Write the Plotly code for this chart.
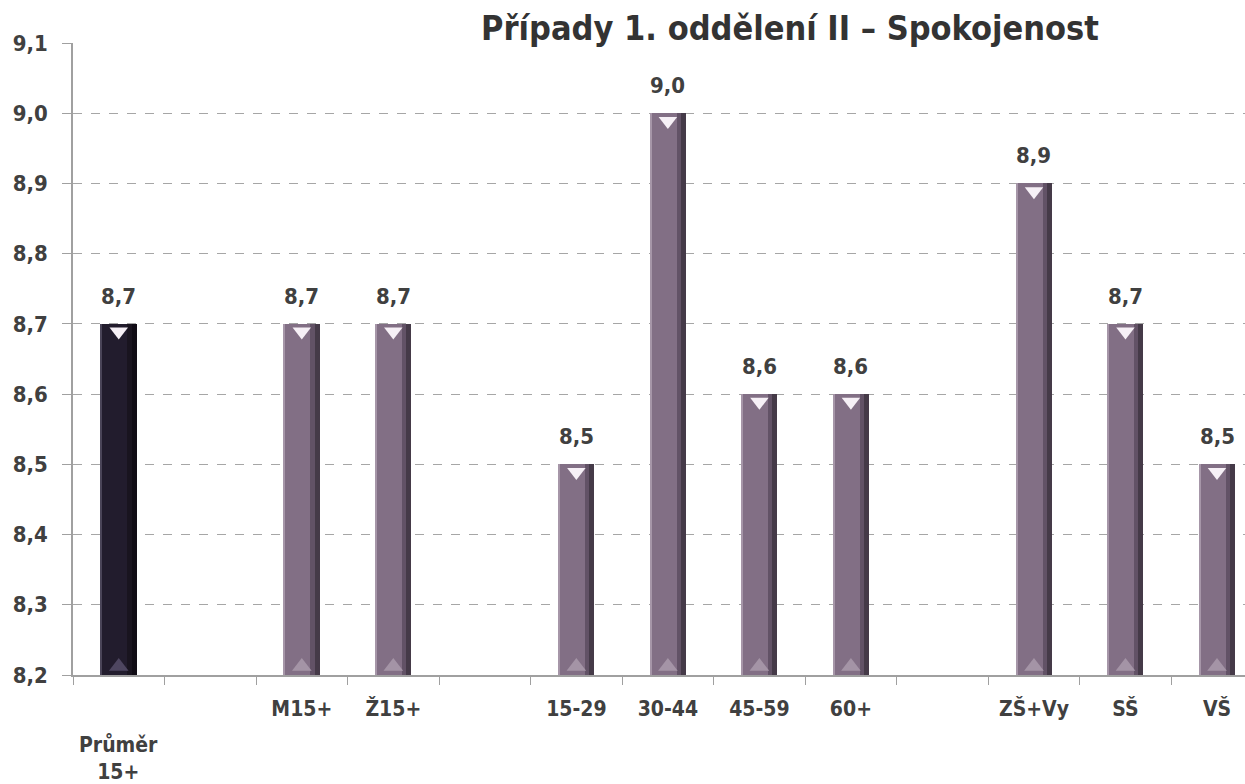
import plotly.graph_objects as go

# ---- data ----
categories = ["Průměr 15+", " ", "M15+", "Ž15+", "  ", "15-29", "30-44", "45-59", "60+", "   ", "ZŠ+Vy", "SŠ", "VŠ"]
tick_labels = ["", " ", "M15+", "Ž15+", "  ", "15-29", "30-44", "45-59", "60+", "   ", "ZŠ+Vy", "SŠ", "VŠ"]
avg_label = "Průměr<br>15+"
values = [8.7, None, 8.7, 8.7, None, 8.5, 9.0, 8.6, 8.6, None, 8.9, 8.7, 8.5]
is_average = [True, False, False, False, False, False, False, False, False, False, False, False, False]
y_min, y_max, y_step = 8.2, 9.1, 0.1
title = "Případy 1. oddělení II – Spokojenost"

FONT = "DejaVu Sans Condensed, DejaVu Sans, sans-serif"
TXT = "#404040"

body_col = ["#221c2d" if a else "#826f85" for a in is_average]
mid_col = ["#19141f" if a else "#625266" for a in is_average]
dark_col = ["#100c15" if a else "#453a48" for a in is_average]
edge_col = ["#4a4458" if a else "#a696a8" for a in is_average]
base_hl = ["#4e4660" if a else "#a494a6" for a in is_average]

W = 0.39
fig = go.Figure()

def strip(colors, width, offset):
    fig.add_trace(go.Bar(
        x=categories, y=values, width=width, offset=offset,
        marker=dict(color=colors, line=dict(width=0)),
        hoverinfo="skip", showlegend=False,
    ))

strip(body_col, W, -W / 2)
strip(edge_col, 0.012, -W / 2)
strip(mid_col, 0.045, W / 2 - 0.1)
strip(dark_col, 0.055, W / 2 - 0.055)

# bevel highlights
xs = [c for c, v in zip(categories, values) if v is not None]
vs = [v for v in values if v is not None]
bh = [b for b, v in zip(base_hl, values) if v is not None]
fig.add_trace(go.Scatter(
    x=xs, y=[v - 0.011 for v in vs], mode="markers",
    marker=dict(symbol="triangle-down", size=16, color="#f6f0f6", line=dict(width=0)),
    hoverinfo="skip", showlegend=False,
))
fig.add_trace(go.Scatter(
    x=xs, y=[y_min + 0.012 for _ in vs], mode="markers",
    marker=dict(symbol="triangle-up", size=17, color=bh, line=dict(width=0)),
    hoverinfo="skip", showlegend=False,
))

# data labels
for c, v in zip(categories, values):
    if v is None:
        continue
    fig.add_annotation(
        x=c, y=v, text=f"{v:.1f}".replace(".", ","), showarrow=False,
        yanchor="bottom", yshift=13,
        font=dict(family=FONT, size=22, color=TXT, weight="bold"),
    )

# wrapped label of the average category (sits lower, as in the original)
fig.add_annotation(
    x=categories[0], y=-0.088, xref="x", yref="paper", yanchor="top",
    text=avg_label, showarrow=False,
    font=dict(family=FONT, size=21, color=TXT, weight="bold"),
)

n_right = -0.5 + (1245 - 73) / 91.52

fig.update_layout(
    width=1245, height=784,
    margin=dict(l=73, r=0, t=43, b=109, autoexpand=False),
    paper_bgcolor="white", plot_bgcolor="white",
    barmode="overlay", bargap=0,
    separators=", ",
    title=dict(
        text=title, x=790 / 1245, xanchor="center", xref="container",
        y=1 - 28 / 784, yanchor="middle", yref="container",
        font=dict(family=FONT, size=34, color="#333333", weight="bold"),
        automargin=False,
    ),
    font=dict(family=FONT, color=TXT),
    xaxis=dict(
        type="category", categoryorder="array", categoryarray=categories,
        range=[-0.5, n_right], automargin=False,
        tickmode="array", tickvals=categories, ticktext=tick_labels,
        tickson="boundaries", ticks="outside", ticklen=8, tickcolor="#a0a0a0",
        showline=True, linecolor="#a0a0a0", linewidth=1.5,
        showgrid=False, zeroline=False,
        tickfont=dict(family=FONT, size=21, color=TXT, weight="bold"),
        ticklabelstandoff=14,
    ),
    yaxis=dict(
        range=[y_min, y_max], tick0=y_min, dtick=y_step, tickformat=".1f",
        automargin=False,
        ticks="outside", ticklen=9, tickcolor="#a0a0a0",
        showline=True, linecolor="#a0a0a0", linewidth=1.5,
        showgrid=True, gridcolor="#a6a6a6", griddash="dash", gridwidth=1,
        zeroline=False,
        tickfont=dict(family=FONT, size=22, color=TXT, weight="bold"),
        ticklabelstandoff=10,
    ),
)

fig.write_html(
    "out.html",
    config={"displayModeBar": False},
    post_script="document.body.style.margin='0';document.body.style.overflow='hidden';",
)
